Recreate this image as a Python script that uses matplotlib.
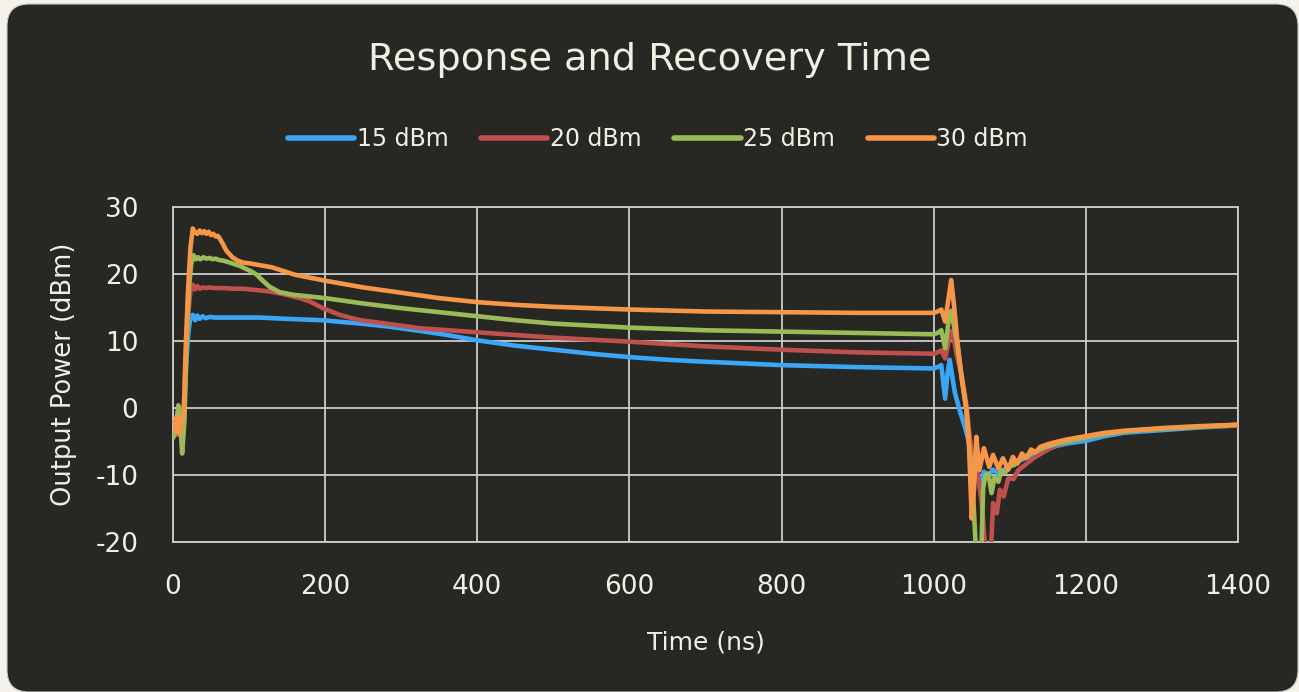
import matplotlib
matplotlib.use("Agg")
import matplotlib.pyplot as plt
from matplotlib.patches import FancyBboxPatch
import numpy as np

# ---- data ----
t_30 = [0, 3, 5, 8, 11, 14, 17, 20, 23, 26, 29, 32, 35, 38, 41, 44, 47, 50, 53, 56, 59, 62, 65, 70, 78, 85,
        92, 100, 115, 130, 160, 200, 250, 300, 350, 400, 450, 500, 550, 600, 700, 800, 900, 950, 1000, 1005,
        1010, 1015, 1019, 1023, 1027, 1031, 1037, 1043, 1046, 1050, 1053, 1056, 1060, 1066, 1073, 1078, 1085,
        1091, 1098, 1104, 1110, 1116, 1122, 1128, 1134, 1140, 1150, 1160, 1175, 1200, 1225, 1250, 1300, 1350, 1400]
p_30 = [-2.0, -3.5, -1.3, -3.8, -2.5, -1.0, 10.0, 18.0, 24.0, 26.8, 26.2, 26.0, 26.5, 26.1, 26.4, 26.0, 26.3,
        25.8, 26.0, 25.6, 25.7, 25.2, 24.6, 23.5, 22.5, 22.0, 21.7, 21.6, 21.3, 21.0, 19.9, 19.0, 18.0, 17.2,
        16.4, 15.8, 15.4, 15.1, 14.9, 14.7, 14.4, 14.3, 14.2, 14.2, 14.2, 14.4, 14.7, 12.9, 16.0, 19.1, 15.0,
        10.0, 4.2, -0.3, -4.5, -16.5, -12.0, -4.3, -9.3, -6.0, -8.8, -7.0, -9.0, -7.5, -9.2, -7.3, -8.3, -6.8,
        -7.4, -6.2, -6.6, -5.8, -5.4, -5.1, -4.7, -4.2, -3.7, -3.4, -3.0, -2.7, -2.5]

t_25 = [0, 3, 7, 9, 12, 15, 18, 21, 24, 27, 30, 33, 36, 40, 44, 48, 52, 56, 60, 66, 72, 80, 88, 95, 103, 110,
        118, 127, 140, 158, 200, 250, 300, 350, 400, 450, 500, 550, 600, 700, 800, 900, 1000, 1005, 1010, 1015,
        1019, 1023, 1027, 1031, 1037, 1043, 1046, 1050, 1054, 1057, 1062, 1065, 1068, 1072, 1076, 1080, 1085,
        1089, 1094, 1100, 1106, 1112, 1120, 1128, 1136, 1145, 1160, 1175, 1200, 1225, 1250, 1300, 1350, 1400]
p_25 = [-4.5, -3.5, 0.4, -1.0, -6.8, -2.0, 10.0, 18.0, 21.5, 22.8, 22.2, 22.5, 22.2, 22.5, 22.3, 22.4, 22.2,
        22.3, 22.1, 22.0, 21.8, 21.5, 21.2, 20.8, 20.4, 19.9, 19.0, 18.1, 17.3, 16.9, 16.4, 15.6, 14.9, 14.3,
        13.7, 13.1, 12.6, 12.3, 12.0, 11.6, 11.4, 11.2, 11.0, 11.2, 11.6, 8.9, 12.5, 14.5, 12.0, 9.5, 4.4,
        -0.2, -4.8, -9.0, -18.0, -24.0, -24.0, -12.0, -10.0, -9.8, -12.7, -10.3, -11.0, -9.3, -9.6, -8.7, -8.5,
        -7.8, -7.3, -6.8, -6.4, -5.9, -5.4, -5.0, -4.4, -3.9, -3.5, -3.1, -2.8, -2.5]

t_20 = [0, 5, 10, 14, 17, 20, 23, 26, 29, 32, 35, 39, 43, 48, 55, 65, 80, 92, 110, 127, 145, 167, 180, 197,
        219, 246, 280, 325, 400, 450, 500, 550, 600, 700, 800, 900, 950, 1000, 1005, 1010, 1015, 1019, 1023,
        1027, 1031, 1037, 1043, 1047, 1052, 1058, 1063, 1067, 1071, 1075, 1078, 1083, 1087, 1092, 1098, 1105,
        1111, 1120, 1131, 1144, 1160, 1175, 1200, 1225, 1250, 1300, 1350, 1400]
p_20 = [-3.5, -4.0, -3.0, -1.0, 8.0, 14.0, 17.5, 18.4, 17.7, 18.2, 17.8, 18.0, 17.9, 18.0, 17.9, 17.9, 17.8,
        17.8, 17.6, 17.4, 17.0, 16.4, 15.9, 14.9, 13.9, 13.1, 12.6, 11.9, 11.3, 10.9, 10.5, 10.2, 9.9, 9.2,
        8.7, 8.3, 8.2, 8.1, 8.3, 8.6, 7.4, 9.5, 11.5, 10.0, 7.5, 4.7, 0.5, -4.0, -8.0, -10.0, -14.0, -20.0,
        -23.0, -22.0, -14.2, -15.7, -12.2, -13.2, -10.5, -10.6, -9.3, -8.5, -7.5, -6.6, -5.6, -5.0, -4.4,
        -3.9, -3.5, -3.1, -2.8, -2.6]

t_15 = [0, 5, 10, 14, 17, 20, 23, 26, 29, 32, 35, 39, 43, 48, 55, 70, 90, 114, 150, 197, 246, 280, 325, 360,
        400, 450, 500, 550, 600, 650, 700, 800, 900, 950, 1000, 1005, 1010, 1015, 1018, 1021, 1024, 1028, 1034,
        1041, 1046, 1050, 1056, 1061, 1066, 1072, 1078, 1085, 1092, 1100, 1110, 1120, 1130, 1140, 1150, 1160,
        1175, 1200, 1225, 1250, 1300, 1350, 1400]
p_15 = [-3.0, -4.0, -3.5, -1.5, 6.0, 11.0, 13.7, 13.9, 13.1, 13.8, 13.3, 13.7, 13.4, 13.6, 13.5, 13.5, 13.5,
        13.5, 13.3, 13.1, 12.6, 12.2, 11.5, 10.9, 10.1, 9.3, 8.7, 8.1, 7.6, 7.2, 6.9, 6.4, 6.1, 6.0, 5.9, 6.1,
        6.4, 1.4, 5.0, 7.2, 5.0, 2.2, -0.3, -2.8, -5.0, -7.5, -10.0, -11.2, -9.5, -10.0, -9.2, -9.8, -9.2,
        -8.6, -8.0, -7.5, -7.0, -6.6, -6.1, -5.7, -5.3, -4.9, -4.2, -3.7, -3.3, -2.9, -2.6]

series = [("15 dBm", t_15, p_15, "#3aa6f5"),
          ("20 dBm", t_20, p_20, "#c0504d"),
          ("25 dBm", t_25, p_25, "#9bbb59"),
          ("30 dBm", t_30, p_30, "#f79646")]

x_ticks = [0, 200, 400, 600, 800, 1000, 1200, 1400]
y_ticks = [-20, -10, 0, 10, 20, 30]

# ---- style ----
BG = "#272723"
TXT = "#f1eee2"
GRID = "#cdcdcd"
plt.rcParams['font.family'] = ['DejaVu Sans']
plt.rcParams['axes.unicode_minus'] = False

fig = plt.figure(figsize=(12.99, 6.92), dpi=100)
fig.patch.set_facecolor("#f4f2e9")
panel = FancyBboxPatch((7/1299, 0.0), (1291/1299), 688/692,
                       boxstyle="round,pad=0,rounding_size=0.017",
                       transform=fig.transFigure, facecolor=BG,
                       edgecolor="#c9c9c9", linewidth=0.8, mutation_aspect=1299/692,
                       zorder=-10)
fig.patches.append(panel)

ax = fig.add_axes([173/1299, 1 - 542/692, (1238 - 173)/1299, (542 - 207)/692])
ax.set_facecolor(BG)
ax.set_zorder(5)

for name, t, p, c in series:
    ax.plot(t, p, color=c, lw=3.3, label=name, solid_capstyle='round', solid_joinstyle='round', zorder=3)

ax.set_xlim(0, 1400)
ax.set_ylim(-20, 30)
ax.set_xticks(x_ticks)
ax.set_yticks(y_ticks)
ax.grid(True, color=GRID, lw=1.3, zorder=1)
for s in ax.spines.values():
    s.set_color(GRID)
    s.set_linewidth(1.3)
ax.tick_params(axis='both', length=0, colors=TXT, labelsize=19)
ax.tick_params(axis='x', pad=23)
ax.tick_params(axis='y', pad=25)
ax.set_xlabel("Time (ns)", color=TXT, fontsize=18, labelpad=22)
ax.set_ylabel("Output Power (dBm)", color=TXT, fontsize=18.5, labelpad=13)

fig.text(0.5, 1 - 60/692, "Response and Recovery Time", color=TXT, fontsize=27.5,
         ha="center", va="center")

leg = fig.legend(loc="center", bbox_to_anchor=(658/1299, 1 - 139/692), ncol=4, frameon=False,
                 fontsize=17, handlelength=2.8, handletextpad=0.1, columnspacing=1.4)
for txt in leg.get_texts():
    txt.set_color(TXT)
for h in leg.get_lines():
    h.set_linewidth(4)

fig.savefig("out.png", dpi=100, facecolor=fig.get_facecolor())
